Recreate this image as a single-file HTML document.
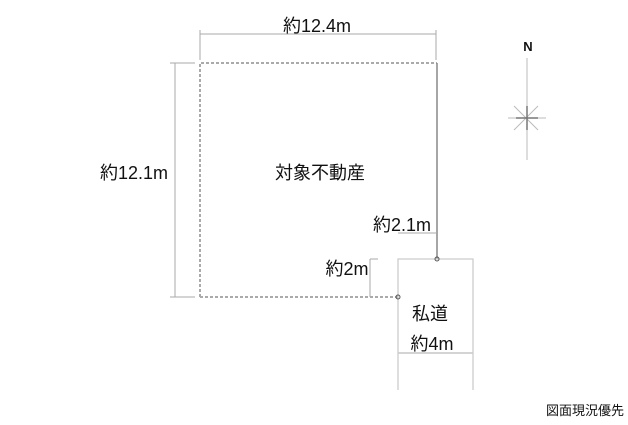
<!DOCTYPE html>
<html><head><meta charset="utf-8"><style>
body{margin:0;width:628px;height:420px;background:#fff;overflow:hidden}
svg text{font-family:"Liberation Sans","Noto Sans CJK JP",sans-serif;fill:#111}
</style></head><body>
<svg width="628" height="420" viewBox="0 0 628 420">
<g stroke="#aaa" stroke-width="1" fill="none">
<line x1="200" y1="34" x2="436" y2="34"/>
<line x1="200" y1="30" x2="200" y2="60"/><line x1="436" y1="30" x2="436" y2="60"/>
<line x1="175" y1="63" x2="175" y2="297"/>
<line x1="170" y1="63" x2="195" y2="63"/><line x1="170" y1="297" x2="195" y2="297"/>
<line x1="398" y1="233" x2="436" y2="233"/>
<line x1="370" y1="259" x2="370" y2="297"/><line x1="370" y1="259" x2="378" y2="259"/>
<line x1="398" y1="353" x2="473" y2="353"/>
</g>
<g stroke="#aaa" stroke-width="2" stroke-dasharray="3,2" fill="none">
<polyline points="200,297 200,63 437,63"/>
<polyline points="200,297 398,297"/>
</g>
<line x1="437" y1="63" x2="437" y2="259" stroke="#888" stroke-width="1.5"/>
<g stroke="#ccc" stroke-width="1.3" fill="none">
<polyline points="398,390 398,259 473,259 473,390"/>
</g>
<circle cx="437" cy="259" r="2" fill="none" stroke="#555"/>
<circle cx="398" cy="297" r="2" fill="none" stroke="#555"/>
<g stroke="#bbb" stroke-width="1">
<line x1="527" y1="58" x2="527" y2="160"/>
<line x1="508" y1="118" x2="546" y2="118"/>
<line x1="514" y1="106" x2="538" y2="130"/><line x1="538" y1="106" x2="514" y2="130"/>
</g>
<g stroke="#777" stroke-width="1.5"><line x1="527" y1="106" x2="527" y2="130"/><line x1="516" y1="118" x2="538" y2="118"/></g>
<text x="528" y="51" font-size="13" font-weight="bold" text-anchor="middle">N</text>
<g font-size="18">
<text x="317" y="32" text-anchor="middle">約12.4m</text>
<text x="134" y="179" text-anchor="middle">約12.1m</text>
<text x="320" y="179" text-anchor="middle">対象不動産</text>
<text x="402" y="231" text-anchor="middle">約2.1m</text>
<text x="347" y="275" text-anchor="middle">約2m</text>
<text x="430" y="320" text-anchor="middle">私道</text>
<text x="432" y="350" text-anchor="middle">約4m</text>
</g>
<text x="585" y="415" font-size="13" text-anchor="middle">図面現況優先</text>
</svg>
</body></html>
